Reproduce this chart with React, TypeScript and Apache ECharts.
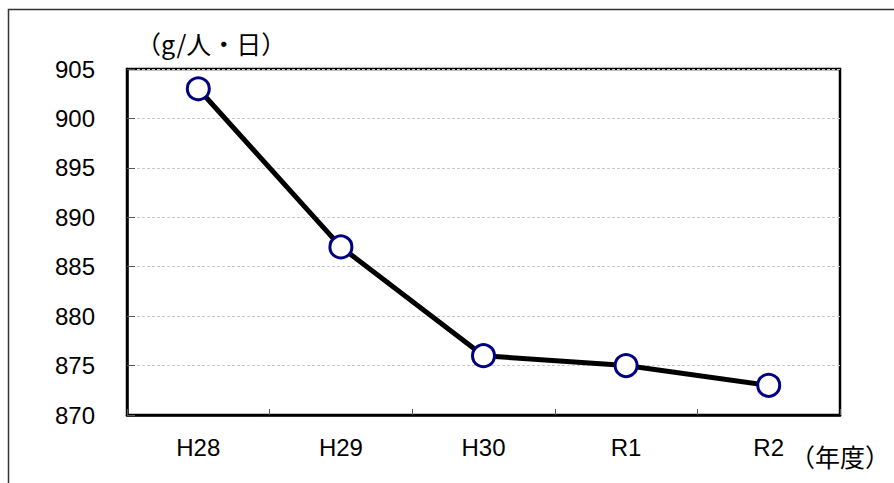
import React, { useEffect, useRef } from "react";
import * as echarts from "echarts";

const categories = ["H28", "H29", "H30", "R1", "R2"];
const values = [903, 887, 876, 875, 873];
const yMin = 870;
const yMax = 905;
const yInterval = 5;
const unitLabel = "（g/人・日）";
const xUnitLabel = "（年度）";

export default function App() {
  const ref = useRef<HTMLDivElement>(null);
  useEffect(() => {
    document.body.style.margin = "0";
    const chart = echarts.init(ref.current!, null, { renderer: "svg" });
    chart.setOption({
      animation: false,
      backgroundColor: "#ffffff",
      grid: {
        left: 127,
        top: 69,
        width: 713,
        height: 346,
        show: true,
        borderColor: "#000000",
        borderWidth: 2.5,
        backgroundColor: "transparent",
      },
      graphic: [
        {
          type: "polyline",
          shape: { points: [[8.5, 600], [8.5, 9.5], [900, 9.5]] },
          style: { stroke: "#333333", lineWidth: 1.5, fill: null },
          silent: true,
        },
        {
          type: "text",
          left: 136,
          top: 30,
          style: {
            text: unitLabel,
            font: '25px "Noto Sans CJK JP"',
            fill: "#000",
          },
        },
        {
          type: "text",
          left: 790,
          top: 443,
          style: {
            text: xUnitLabel,
            font: '25px "Noto Sans CJK JP"',
            fill: "#000",
          },
        },
      ],
      xAxis: {
        type: "category",
        data: categories,
        boundaryGap: true,
        axisLine: { show: true, lineStyle: { color: "#000", width: 2.5 } },
        axisTick: {
          show: true,
          inside: true,
          length: 6,
          alignWithLabel: false,
          lineStyle: { color: "#555", width: 1 },
        },
        axisLabel: {
          color: "#000",
          fontSize: 24,
          fontFamily: "Liberation Sans, Arial",
          margin: 20,
        },
        splitLine: { show: false },
      },
      yAxis: {
        type: "value",
        min: yMin,
        max: yMax,
        interval: yInterval,
        axisLine: { show: true, lineStyle: { color: "#000", width: 2.5 } },
        axisTick: {
          show: true,
          inside: true,
          length: 8,
          lineStyle: { color: "#555", width: 1 },
        },
        axisLabel: {
          color: "#000",
          fontSize: 24,
          fontFamily: "Liberation Sans, Arial",
          margin: 32,
        },
        splitLine: {
          show: true,
          lineStyle: { color: "#c8c8c8", type: [3, 2], width: 1 },
        },
      },
      series: [
        {
          type: "line",
          data: values,
          symbol: "circle",
          symbolSize: 22,
          showSymbol: true,
          lineStyle: { color: "#000", width: 5 },
          itemStyle: { color: "#ffffff", borderColor: "#000080", borderWidth: 3 },
          z: 3,
        },
      ],
    });
    return () => chart.dispose();
  }, []);
  return <div ref={ref} style={{ width: 894, height: 483 }} />;
}
